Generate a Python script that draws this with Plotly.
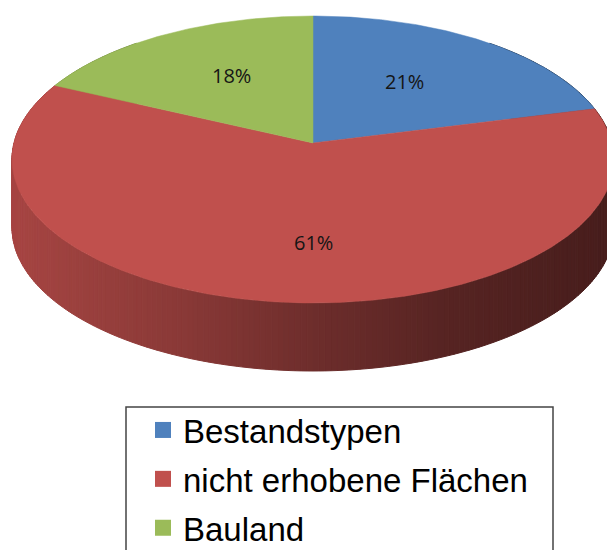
import math
import plotly.graph_objects as go

# ---- data ----
categories = ["Bestandstypen", "nicht erhobene Flächen", "Bauland"]
shares = [21, 61, 18]
labels = ["21%", "61%", "18%"]
colors = ["#4F81BD", "#C0504D", "#9BBB59"]

# ---- 3D projection parameters (layout only) ----
CX, CY = 313.0, 143.0   # apex of pie on screen
AX, KY = 299.0, 141.6   # horizontal / vertical radius
DP = 8.7                # perspective distance
DEPTH = 68.0            # thickness of the pie
label_r = [0.56, 0.653, 0.584]
label_shift_deg = [-2.8, -5.4, 2.8]

W, H = 607, 550


def proj(theta_deg, r=1.0, dy=0.0):
    t = math.radians(theta_deg)
    X = r * math.sin(t)
    Z = r * math.cos(t)
    s = DP / (DP + Z)
    return CX + AX * X * s, CY - KY * Z * s + dy


def hex_rgb(h):
    h = h.lstrip("#")
    return tuple(int(h[i:i + 2], 16) for i in (0, 2, 4))


# shading of the side wall as a function of screen x (relative to base colour)
shade_x = [12, 180, 313, 450, 604]
shade_f = [0.87, 0.72, 0.575, 0.45, 0.375]


def shade_factor(x):
    if x <= shade_x[0]:
        return shade_f[0]
    for i in range(len(shade_x) - 1):
        if x <= shade_x[i + 1]:
            u = (x - shade_x[i]) / (shade_x[i + 1] - shade_x[i])
            return shade_f[i] + u * (shade_f[i + 1] - shade_f[i])
    return shade_f[-1]


# slice angular ranges (clockwise from top)
total = float(sum(shares))
bounds = []
acc = 0.0
for v in shares:
    a0 = acc / total * 360.0
    acc += v
    a1 = acc / total * 360.0
    bounds.append((a0, a1))


def slice_of(theta):
    th = theta % 360.0
    for i, (a0, a1) in enumerate(bounds):
        if a0 <= th < a1:
            return i
    return len(bounds) - 1


fig = go.Figure()

# ---- side wall strips (back to front) ----
step = 1.0
strips = []
th = 40.0
while th < 320.0:
    strips.append((th, th + step))
    th += step
strips.sort(key=lambda s: -math.cos(math.radians((s[0] + s[1]) / 2)))
for a0, a1 in strips:
    mid = (a0 + a1) / 2
    i = slice_of(mid)
    x0, y0 = proj(a0)
    x1, y1 = proj(a1)
    xb0, yb0 = proj(a0, dy=DEPTH)
    xb1, yb1 = proj(a1, dy=DEPTH)
    f = shade_factor((x0 + x1) / 2)
    r, g, b = hex_rgb(colors[i])
    c = "rgb(%d,%d,%d)" % (r * f, g * f, b * f)
    fig.add_trace(go.Scatter(
        x=[x0, x1, xb1, xb0, x0], y=[y0, y1, yb1, yb0, y0],
        mode="lines", fill="toself", fillcolor=c,
        line=dict(color=c, width=1), hoverinfo="skip", showlegend=False))

# ---- top faces ----
for i, (a0, a1) in enumerate(bounds):
    n = max(2, int((a1 - a0) / 0.5))
    xs, ys = [CX], [CY]
    for k in range(n + 1):
        x, y = proj(a0 + (a1 - a0) * k / n)
        xs.append(x)
        ys.append(y)
    xs.append(CX)
    ys.append(CY)
    fig.add_trace(go.Scatter(
        x=xs, y=ys, mode="lines", fill="toself", fillcolor=colors[i],
        line=dict(color=colors[i], width=0.5), hoverinfo="skip", showlegend=False))

# ---- percentage labels ----
for i, (a0, a1) in enumerate(bounds):
    x, y = proj((a0 + a1) / 2 + label_shift_deg[i], r=label_r[i])
    fig.add_annotation(x=x, y=y, text=labels[i], showarrow=False,
                       font=dict(family="Open Sans", size=20, color="#151515"))

# ---- legend entries ----
for i, name in enumerate(categories):
    fig.add_trace(go.Scatter(
        x=[None], y=[None], mode="markers", name=name, legendgroup=name,
        marker=dict(symbol="square", size=16, color=colors[i])))

fig.add_shape(type="rect", xref="x", yref="y", x0=126, x1=553, y0=407, y1=560,
              line=dict(color="#444444", width=1.5), fillcolor="rgba(0,0,0,0)")

fig.update_layout(
    width=W, height=H,
    margin=dict(l=0, r=0, t=0, b=0, autoexpand=False),
    paper_bgcolor="white", plot_bgcolor="white",
    xaxis=dict(range=[0, W], visible=False, fixedrange=True),
    yaxis=dict(range=[H, 0], visible=False, fixedrange=True),
    showlegend=True,
    legend=dict(x=143 / W, y=1 - 402 / H,
                xanchor="left", yanchor="top",
                bgcolor="rgba(0,0,0,0)", borderwidth=0,
                font=dict(family="Liberation Sans", size=33, color="black"),
                tracegroupgap=3, itemsizing="trace"),
)

fig.write_html(
    "out.html",
    config={"displayModeBar": False},
    post_script=("document.body.style.margin='0';"
                 "document.body.style.overflow='hidden';"
                 "document.documentElement.style.overflow='hidden';"),
)
